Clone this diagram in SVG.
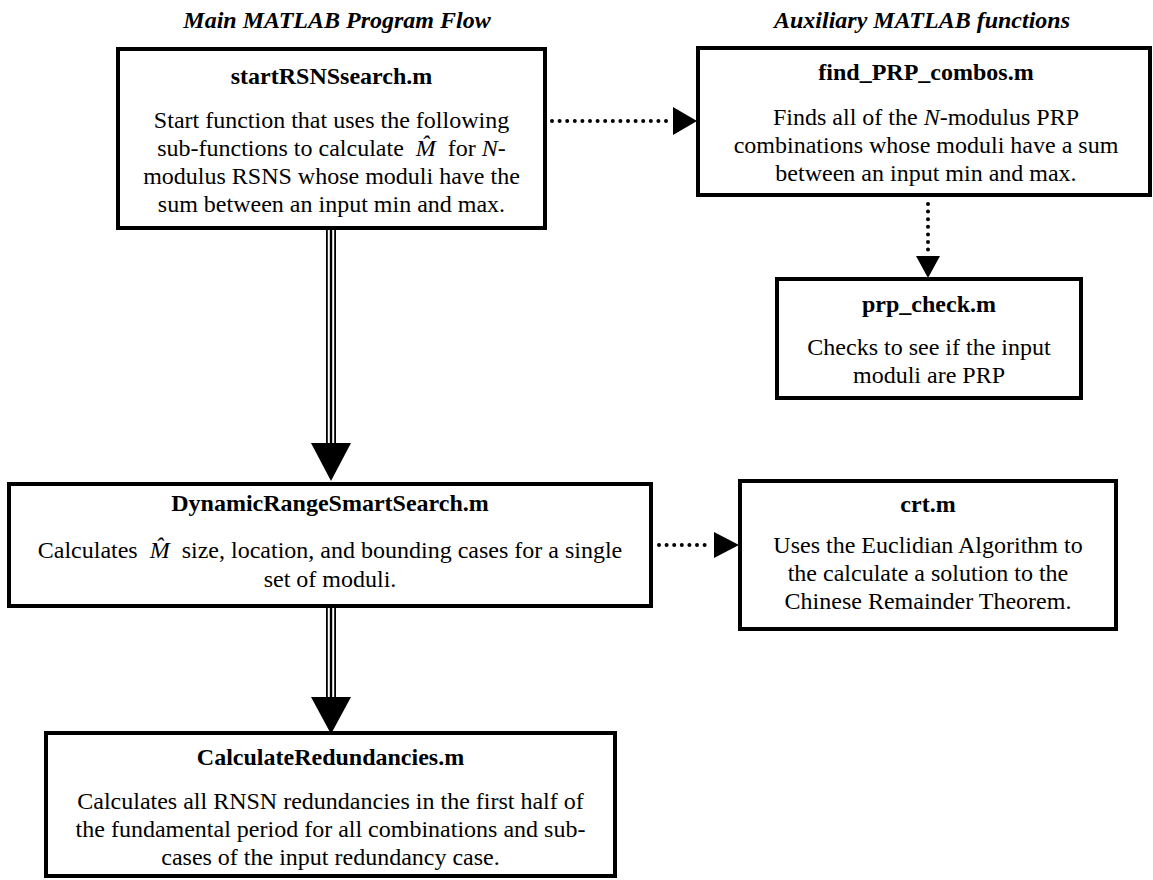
<svg xmlns="http://www.w3.org/2000/svg" width="1153" height="880" viewBox="0 0 1153 880">
  <style>
    .box { fill: #fff; stroke: #000; stroke-width: 4; }
    .t { font-family: "Liberation Serif", "Times New Roman", serif; font-size: 24px; text-anchor: middle; fill: #000; }
    .title { font-weight: bold; }
    .hdr { font-weight: bold; font-style: italic; }
    .i { font-style: italic; }
    .dot { fill: none; stroke: #000; stroke-width: 4; stroke-linecap: round; stroke-dasharray: 0 7.6; }
    .head { fill: #000; }
  </style>
  <rect width="1153" height="880" fill="#fff"/>

  <!-- column headings -->
  <text class="t hdr" x="337" y="28">Main MATLAB Program Flow</text>
  <text class="t hdr" x="922" y="28">Auxiliary MATLAB functions</text>

  <!-- connectors -->
  <g id="connectors">
    <!-- startRSNSsearch -> find_PRP_combos -->
    <line class="dot" x1="552" y1="121" x2="670" y2="121"/>
    <polygon class="head" points="673,107 697,121 673,135"/>
    <!-- find_PRP_combos -> prp_check -->
    <line class="dot" x1="928" y1="204" x2="928" y2="252"/>
    <polygon class="head" points="916,256 940,256 928,278"/>
    <!-- DynamicRangeSmartSearch -> crt -->
    <line class="dot" x1="659" y1="545" x2="712" y2="545"/>
    <polygon class="head" points="714,532 739,545 714,558"/>
    <!-- triple-line flow arrows -->
    <g>
      <line x1="331" y1="228" x2="331" y2="445" stroke="#000" stroke-width="10"/>
      <line x1="331" y1="228" x2="331" y2="445" stroke="#fff" stroke-width="6.4"/>
      <line x1="331" y1="228" x2="331" y2="445" stroke="#000" stroke-width="2.4"/>
      <polygon class="head" points="311,443 351,443 331,481"/>
    </g>
    <g>
      <line x1="331" y1="606" x2="331" y2="699" stroke="#000" stroke-width="10"/>
      <line x1="331" y1="606" x2="331" y2="699" stroke="#fff" stroke-width="6.4"/>
      <line x1="331" y1="606" x2="331" y2="699" stroke="#000" stroke-width="2.4"/>
      <polygon class="head" points="311,697 351,697 331,734"/>
    </g>
  </g>

  <g id="startRSNSsearch">
    <rect class="box" x="118" y="49" width="427" height="179"/>
    <text class="t title" x="331.5" y="84">startRSNSsearch.m</text>
    <text class="t" x="331.5" y="128">Start function that uses the following</text>
    <text class="t" x="331.5" y="156">sub-functions to calculate&#160; <tspan class="i">M&#770;</tspan>&#160; for <tspan class="i">N</tspan>-</text>
    <text class="t" x="331.5" y="184">modulus RSNS whose moduli have the</text>
    <text class="t" x="331.5" y="212">sum between an input min and max.</text>
  </g>

  <g id="find_PRP_combos">
    <rect class="box" x="698" y="48" width="452" height="147"/>
    <text class="t title" x="926" y="80">find_PRP_combos.m</text>
    <text class="t" x="926" y="125">Finds all of the <tspan class="i">N</tspan>-modulus PRP</text>
    <text class="t" x="926" y="153">combinations whose moduli have a sum</text>
    <text class="t" x="926" y="181">between an input min and max.</text>
  </g>

  <g id="prp_check">
    <rect class="box" x="777" y="279" width="304" height="119"/>
    <text class="t title" x="929" y="312">prp_check.m</text>
    <text class="t" x="929" y="355">Checks to see if the input</text>
    <text class="t" x="929" y="383">moduli are PRP</text>
  </g>

  <g id="DynamicRangeSmartSearch">
    <rect class="box" x="9" y="484" width="642" height="122"/>
    <text class="t title" x="330" y="511">DynamicRangeSmartSearch.m</text>
    <text class="t" x="330" y="558">Calculates&#160; <tspan class="i">M&#770;</tspan>&#160; size, location, and bounding cases for a single</text>
    <text class="t" x="330" y="587">set of moduli.</text>
  </g>

  <g id="crt">
    <rect class="box" x="740" y="481" width="376" height="148"/>
    <text class="t title" x="928" y="512">crt.m</text>
    <text class="t" x="928" y="553">Uses the Euclidian Algorithm to</text>
    <text class="t" x="928" y="581">the calculate a solution to the</text>
    <text class="t" x="928" y="609">Chinese Remainder Theorem.</text>
  </g>

  <g id="CalculateRedundancies">
    <rect class="box" x="46" y="733" width="569" height="143"/>
    <text class="t title" x="330.5" y="765">CalculateRedundancies.m</text>
    <text class="t" x="330.5" y="809">Calculates all RNSN redundancies in the first half of</text>
    <text class="t" x="330.5" y="837">the fundamental period for all combinations and sub-</text>
    <text class="t" x="330.5" y="865">cases of the input redundancy case.</text>
  </g>
</svg>
